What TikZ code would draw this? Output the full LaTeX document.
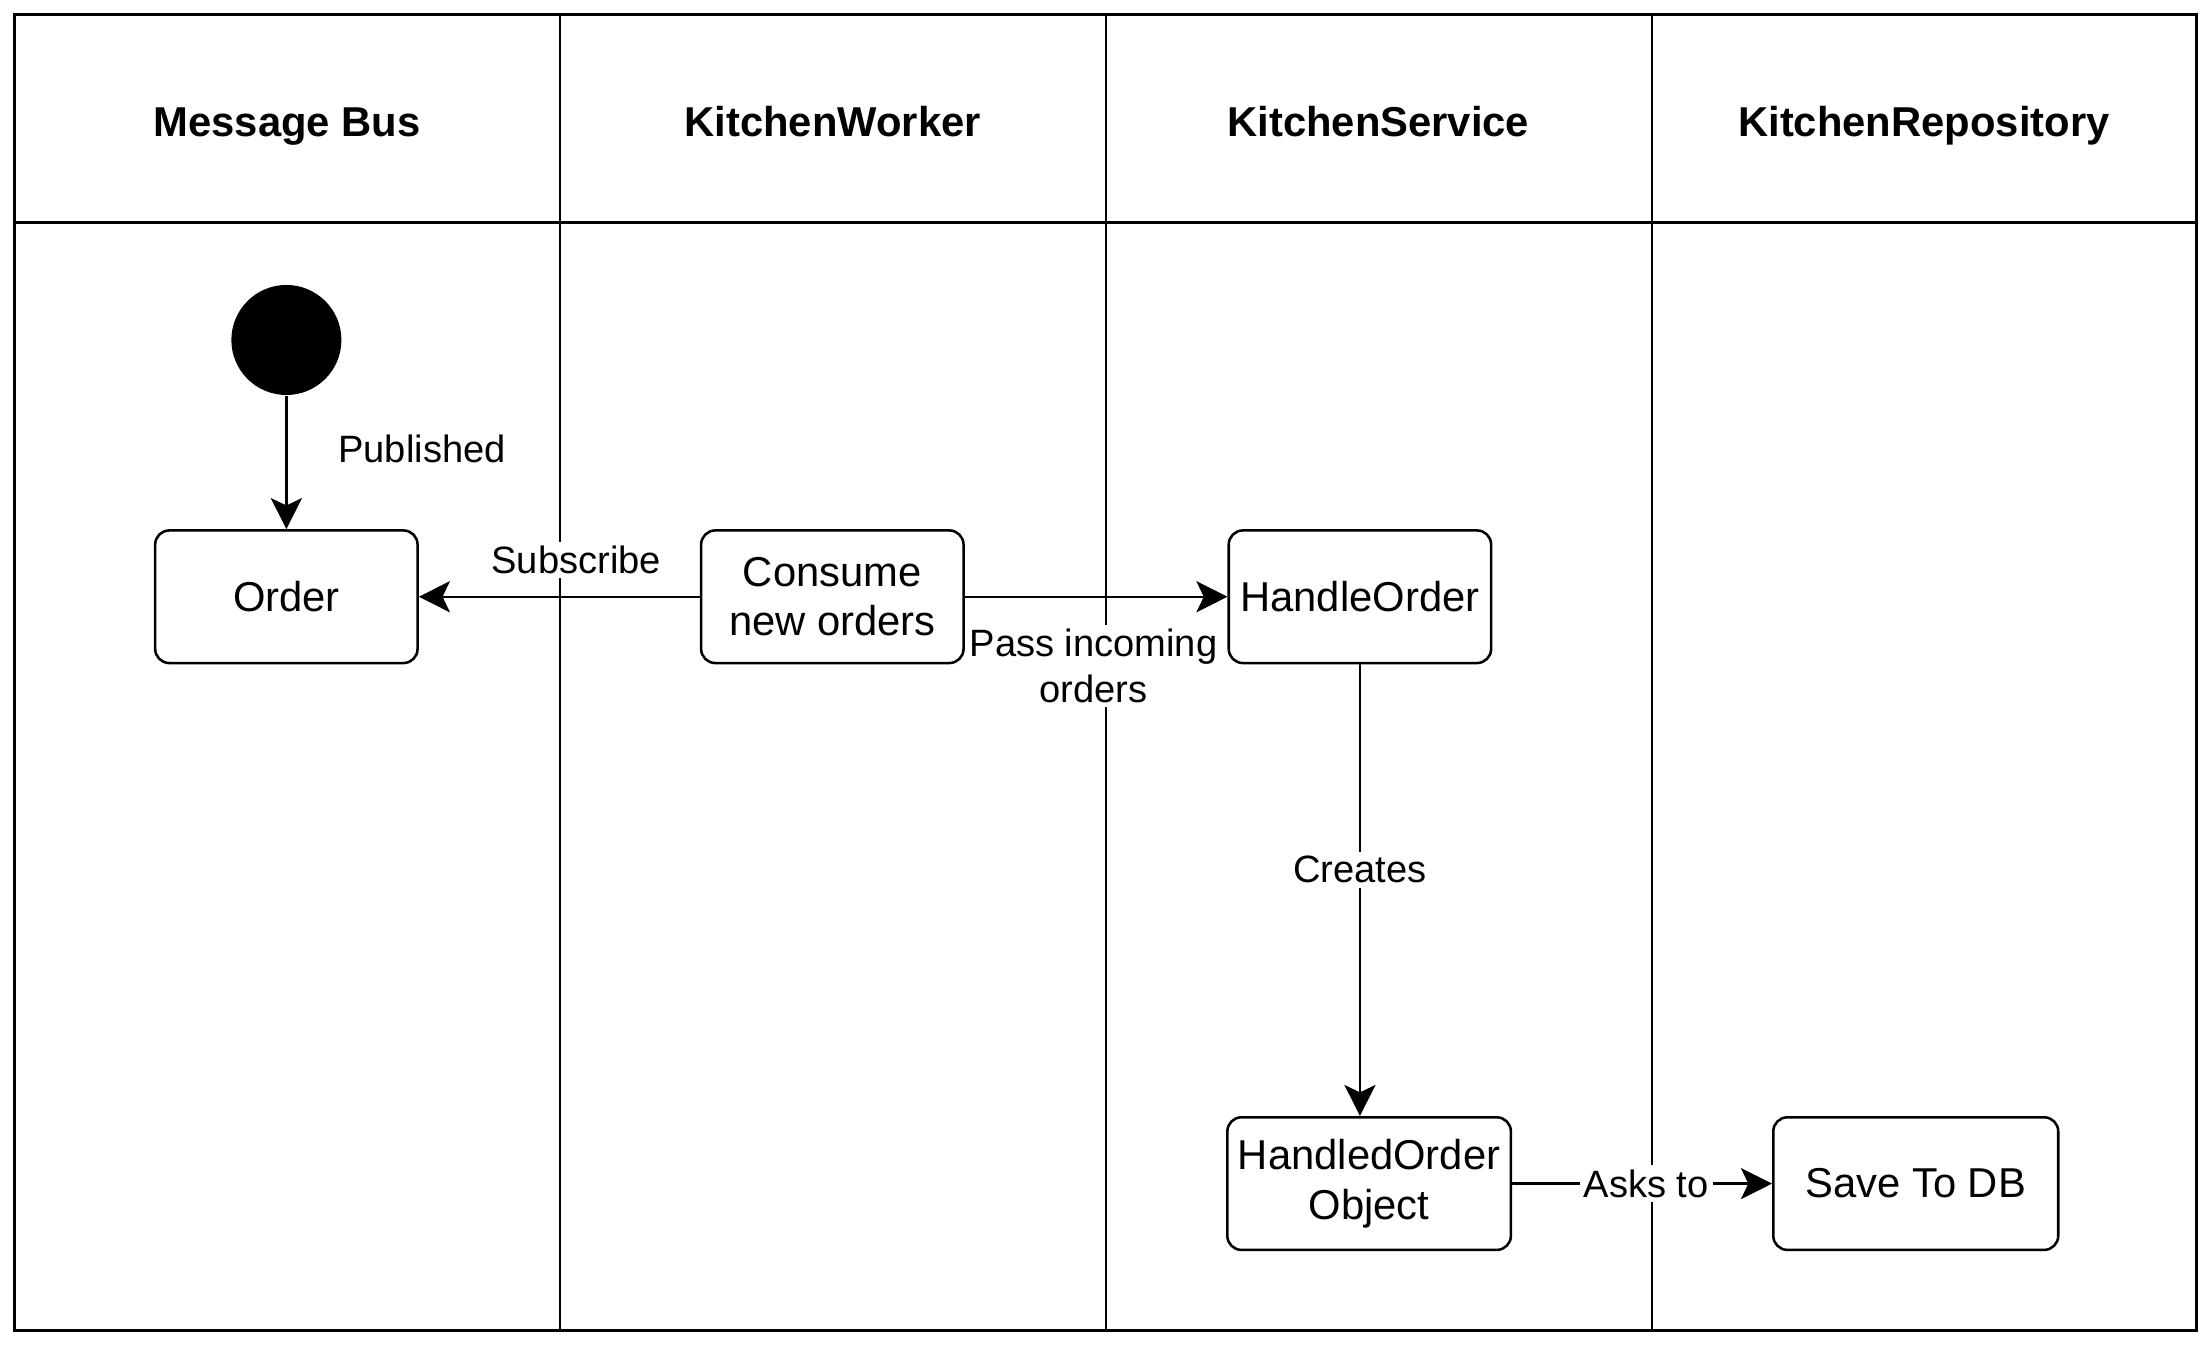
\documentclass[tikz,border=0pt]{standalone}
\usepackage{fontspec}
\setmainfont{Liberation Sans}
\usetikzlibrary{arrows.meta}

\begin{document}
\begin{tikzpicture}[x=0.5pt, y=-0.5pt,
  lane/.style={line width=1pt},
  lanehead/.style={anchor=base, font=\fontsize{14.8}{17.5}\selectfont\bfseries},
  actbox/.style={draw, line width=0.9pt, rounded corners=5pt, minimum width=93pt,
    minimum height=47pt, inner sep=1pt, align=center, font=\fontsize{14.8}{17.5}\selectfont},
  startdot/.style={circle, fill=black, minimum size=39pt, inner sep=0pt},
  flow/.style={line width=0.85pt, -{Stealth[length=11pt, width=11pt, inset=2.6pt]}},
  lbl/.style={fill=white, inner sep=1.5pt, align=center, font=\fontsize{13.5}{16}\selectfont}]

\useasboundingbox (0,0) rectangle (1568,953);

% swimlanes
\draw[lane] (10,10) rectangle (1557,943);
\draw[lane] (10,158) -- (1557,158);
\foreach \x in {397,784,1171}
  \draw[lane] (\x,10) -- (\x,943);
\foreach \name [count=\i from 0] in {Message Bus, KitchenWorker, KitchenService, KitchenRepository}
  \node[lanehead] (head\i) at (203.5+386.75*\i,97) {\name};

% activities
\node[startdot] (start) at (203,241) {};
\node[actbox] (order) at (203,423) {Order};
\node[actbox] (consume) at (590,423) {Consume\\new orders};
\node[actbox] (handle) at (964,423) {HandleOrder};
\node[actbox, minimum width=100.5pt] (handled) at (970.5,839) {HandledOrder\\Object};
\node[actbox, minimum width=101pt] (save) at (1358,839) {Save To DB};

% flows
\draw[flow] (start) -- (order) node[lbl, pos=0.4, right=16.5pt] {Published};
\draw[flow] (consume) -- (order) node[lbl, pos=0.44, yshift=13pt] {Subscribe};
\draw[flow] (consume) -- (handle) node[lbl, pos=0.49, yshift=-24.5pt] {Pass incoming\\orders};
\draw[flow] (handle.south) -- (handle.south |- handled.north) node[lbl, pos=0.455] {Creates};
\draw[flow] (handled) -- (save) node[lbl, pos=0.516] {Asks to};
\end{tikzpicture}
\end{document}
